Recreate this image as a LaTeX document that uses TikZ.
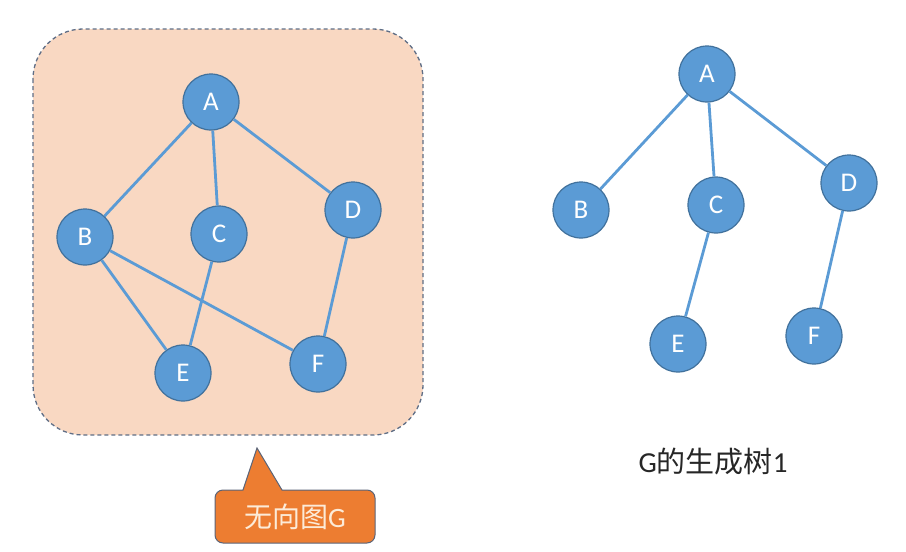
\documentclass[tikz,border=0pt]{standalone}
\usepackage{fontspec}
\setmainfont{Carlito}
\newfontfamily\cjk{Noto Sans CJK SC}
\definecolor{nodefill}{HTML}{5B9BD5}
\definecolor{nodeborder}{HTML}{41719C}
\definecolor{panelfill}{HTML}{F9D8C2}
\definecolor{panelborder}{HTML}{5F6E86}
\definecolor{calloutfill}{HTML}{ED7D31}
\definecolor{calloutborder}{HTML}{5A6478}
\definecolor{callouttext}{HTML}{FCEBD8}
\definecolor{captiontext}{HTML}{262626}
\begin{document}
\begin{tikzpicture}[x=1pt,y=-1pt,
  vert/.style={circle,fill=nodefill,draw=nodeborder,line width=1.2pt,minimum size=56pt,inner sep=0pt,text=white,font=\fontsize{27}{27}\selectfont},
  edge/.style={draw=nodefill,line width=2.8pt}]
\useasboundingbox (0,0) rectangle (906,552);
% panel
\draw[fill=panelfill,draw=panelborder,dash pattern=on 4pt off 3pt,line width=1.3pt,rounded corners=50pt] (33,29) rectangle (423,435);
% left graph
\node[vert] (A) at (211,102) {A};
\node[vert] (B) at (85,237) {B};
\node[vert] (C) at (219,234) {C};
\node[vert] (D) at (353,210) {D};
\node[vert] (E) at (183,373) {E};
\node[vert] (F) at (318,364) {F};
\draw[edge] (A) -- (B);
\draw[edge] (A) -- (C);
\draw[edge] (A) -- (D);
\draw[edge] (B) -- (E);
\draw[edge] (B) -- (F);
\draw[edge] (C) -- (E);
\draw[edge] (D) -- (F);
% right tree
\node[vert] (tA) at (707,74) {A};
\node[vert] (tB) at (581,210) {B};
\node[vert] (tC) at (716,205) {C};
\node[vert] (tD) at (849,183) {D};
\node[vert] (tE) at (678,344) {E};
\node[vert] (tF) at (814,336) {F};
\draw[edge] (tA) -- (tB);
\draw[edge] (tA) -- (tC);
\draw[edge] (tA) -- (tD);
\draw[edge] (tC) -- (tE);
\draw[edge] (tD) -- (tF);
% callout
\draw[fill=calloutfill,draw=calloutborder,line width=1pt,rounded corners=8pt]
  (295,543) -- (215,543) -- (215,490) [sharp corners] -- (243,490) -- (257,448) -- (282,490) [rounded corners=8pt] -- (375,490) -- (375,543) -- cycle;
\node[text=callouttext,font=\fontsize{28}{28}\selectfont] (callout) at (295,517) {{\cjk 无向图}G};
% caption
\node[text=captiontext,font=\fontsize{29}{29}\selectfont] (caption) at (713,462) {G{\cjk 的生成树}1};
\end{tikzpicture}
\end{document}
